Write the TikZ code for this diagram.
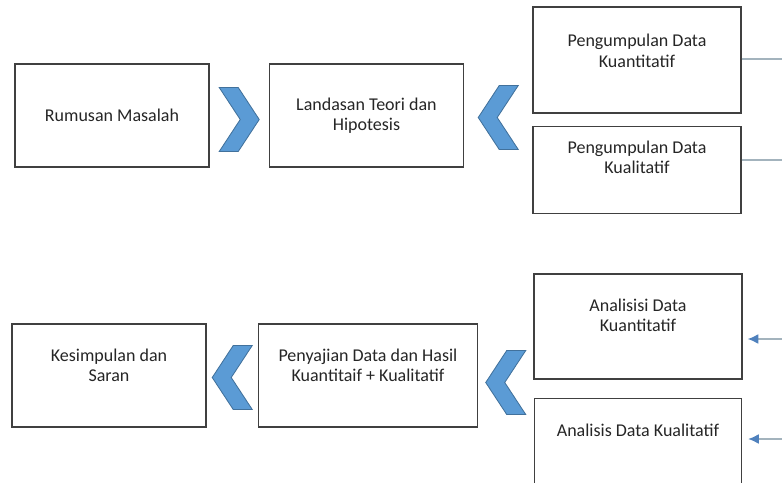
\documentclass[tikz,border=0pt]{standalone}
\usepackage{fontspec}
\setmainfont{Carlito}
\usetikzlibrary{arrows.meta, positioning, calc}
\definecolor{boxline}{HTML}{404040}
\definecolor{chevfill}{HTML}{5B9BD5}
\definecolor{chevline}{HTML}{41719C}
\definecolor{linkgray}{HTML}{A3B3BD}
\definecolor{tipblue}{HTML}{4F81BD}

\begin{document}
\begin{tikzpicture}[
    x=0.025cm, y=-0.025cm,
    box/.style={draw=boxline, line width=1pt, fill=white, minimum width=4.85cm, minimum height=2.575cm, align=center, text=black!85, font=\fontsize{12.8}{14.5}\selectfont},
    wide/.style={box, minimum width=5.2cm},
    lift/.style={text depth=#1},
    chev/.pic={\draw[fill=chevfill, draw=chevline, line width=0.6pt] (-20,0) -- (1,-32) -- (20,-32) -- (-1,0) -- (20,32) -- (1,32) -- cycle;},
    link/.style={draw=linkgray, line width=0.9pt},
    arr/.style={link, {Latex[length=7.5pt, width=7pt, color=tipblue]}-},
    node distance=0.3cm
]
\useasboundingbox (0,0) rectangle (782,482);
\clip (0,0) rectangle (782,482);

\node[box] (rm) at (112,115.5) {Rumusan Masalah};
\node[box, right=1.475cm of rm] (lt) {Landasan Teori dan\\Hipotesis};
\node[wide, minimum height=2.65cm, lift=13pt] (pkn) at (637,60) {Pengumpulan Data\\Kuantitatif};
\node[wide, minimum height=2.175cm, below=0.3cm of pkn, lift=18pt] (pkl) {Pengumpulan Data\\Kualitatif};

\node[box, lift=15pt] (ks) at (109,375.5) {Kesimpulan dan\\Saran};
\node[box, minimum width=5.475cm, right=1.275cm of ks, lift=15pt] (pj) {Penyajian Data dan Hasil\\Kuantitaif + Kualitatif};
\node[wide, minimum height=2.625cm, lift=16pt] (akn) at (638,326.5) {Analisisi Data\\Kuantitatif};
\node[wide, minimum width=5.175cm, minimum height=2.5cm, below=0.45cm of akn, lift=26pt] (akl) {Analisis Data Kualitatif};

\pic[xscale=-1] at ($(rm.east)!.5!(lt.west)+(0,4)$) {chev};
\pic at ($(lt.east)!.5!(pkn.west |- lt.east)+(0,2)$) {chev};
\pic at ($(ks.east)!.5!(pj.west)+(0,2)$) {chev};
\pic at ($(pj.east)!.5!(akn.west |- pj.east)+(0,7)$) {chev};

\coordinate (oa) at (782,59);
\coordinate (ob) at (782,160);
\coordinate (ia) at (782,339);
\coordinate (ib) at (782,439);
\draw[link] (pkn.east |- oa) -- (oa);
\draw[link] (pkl.east |- ob) -- (ob);
\draw[arr] ([xshift=0.125cm]akn.east |- ia) -- (ia);
\draw[arr] ([xshift=0.15cm]akl.east |- ib) -- (ib);
\end{tikzpicture}
\end{document}
